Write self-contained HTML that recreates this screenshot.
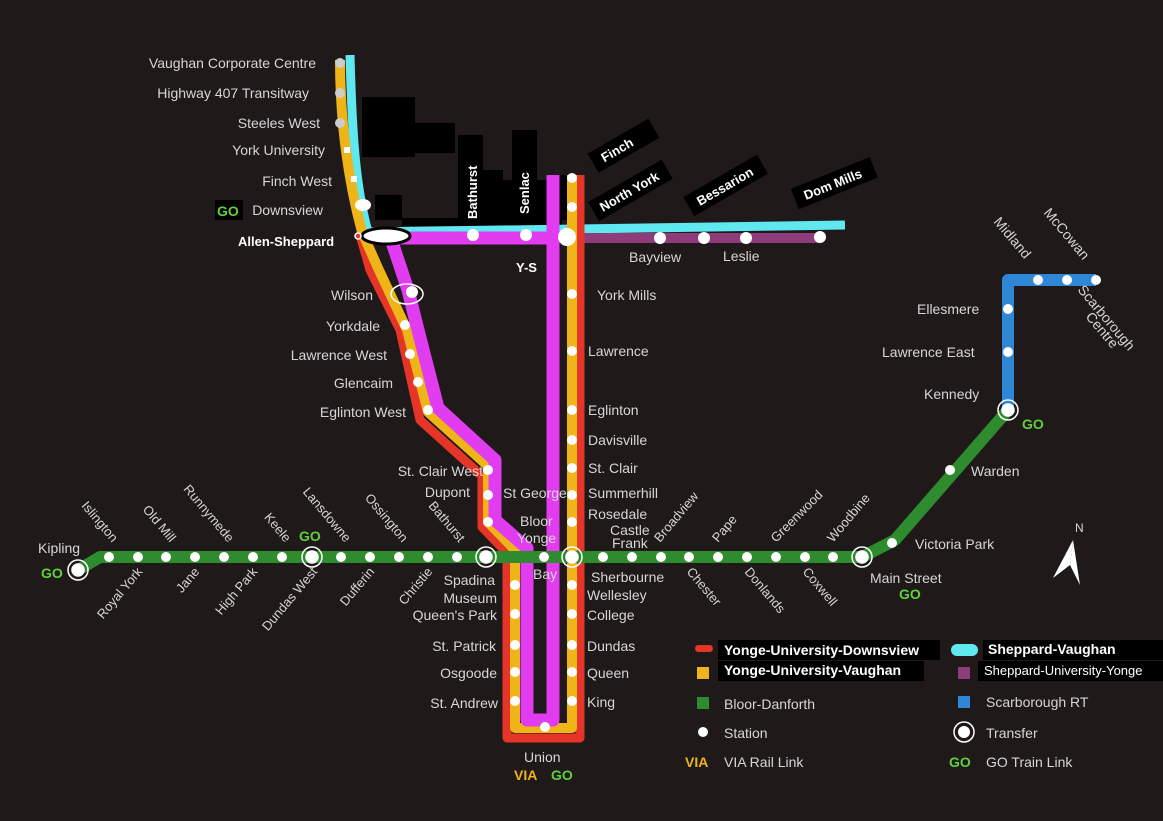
<!DOCTYPE html>
<html><head><meta charset="utf-8"><style>
html,body{margin:0;padding:0;background:#1f1a19;}
svg{display:block}
text{font-family:"Liberation Sans","DejaVu Sans",sans-serif;}
.l{fill:#d6d6d6;font-size:14px;}
.b{fill:#fff;font-size:13px;font-weight:bold;}
.go{fill:#5fd13a;font-size:14px;font-weight:bold;}
</style></head><body>
<svg width="1163" height="821" viewBox="0 0 1163 821" xmlns="http://www.w3.org/2000/svg">
<rect width="1163" height="821" fill="#1f1a19"/>
<!-- black blocks -->
<g fill="#000">
<rect x="362" y="97" width="53" height="60"/>
<rect x="415" y="123" width="40" height="30"/>
<rect x="458" y="135" width="25" height="85"/>
<rect x="483" y="170" width="20" height="50"/>
<rect x="512" y="130" width="25" height="50"/>
<rect x="503" y="180" width="50" height="40"/>
<rect x="553" y="175" width="15" height="45"/>
<rect x="375" y="195" width="27" height="25"/>
<rect x="215" y="200" width="28" height="20"/>
<rect x="402" y="218" width="160" height="8"/>
</g>
<!-- cyan Sheppard-Vaughan -->
<path d="M350,55 C352,130 355,185 368,232 L845,225" fill="none" stroke="#5fe8f0" stroke-width="9" stroke-linejoin="round"/>
<!-- purple Sheppard east -->
<path d="M570,238 L820,238" stroke="#8e3d7a" stroke-width="10"/>
<!-- red -->
<path d="M360,235 L370,270 L400,330 L420,420 L482,476 L482,527 L507,553 L507,738 L580,738 L580,175" fill="none" stroke="#e53528" stroke-width="9" stroke-linejoin="round"/>
<!-- yellow -->
<path d="M340,60 C340,120 348,180 362,232 L378,268 L407,330 L428,412 L488,466 L488,522 L515,550 L515,728 L572,728 L572,175" fill="none" stroke="#eeb418" stroke-width="10" stroke-linejoin="round"/>
<!-- magenta -->
<path d="M380,238 L553,238 M392,242 L408,290 L418,330 L438,408 L495,460 L495,520 L527,548 L527,720 L553,720 L553,175" fill="none" stroke="#e13cf0" stroke-width="13" stroke-linejoin="round"/>
<!-- green -->
<path d="M78,570 L100,557 L862,557 L895,540 L1008,410" fill="none" stroke="#2e8b2e" stroke-width="12" stroke-linejoin="round"/>
<!-- blue -->
<path d="M1008,410 L1008,280 L1096,280" fill="none" stroke="#2e86d6" stroke-width="12" stroke-linejoin="round"/>
<!-- stations -->
<g fill="#fff">
<circle cx="109" cy="557" r="5"/><circle cx="138" cy="557" r="5"/><circle cx="166" cy="557" r="5"/><circle cx="195" cy="557" r="5"/><circle cx="224" cy="557" r="5"/><circle cx="253" cy="557" r="5"/><circle cx="282" cy="557" r="5"/><circle cx="341" cy="557" r="5"/><circle cx="370" cy="557" r="5"/><circle cx="399" cy="557" r="5"/><circle cx="428" cy="557" r="5"/><circle cx="457" cy="557" r="5"/><circle cx="544" cy="557" r="5"/><circle cx="603" cy="557" r="5"/><circle cx="632" cy="557" r="5"/><circle cx="661" cy="557" r="5"/><circle cx="689" cy="557" r="5"/><circle cx="718" cy="557" r="5"/><circle cx="747" cy="557" r="5"/><circle cx="776" cy="557" r="5"/><circle cx="805" cy="557" r="5"/><circle cx="833" cy="557" r="5"/><circle cx="892" cy="543" r="5"/><circle cx="950" cy="470" r="5"/>
<circle cx="1008" cy="352" r="5"/><circle cx="1008" cy="309" r="5"/><circle cx="1038" cy="280" r="5"/><circle cx="1067" cy="280" r="5"/><circle cx="1096" cy="280" r="5"/>
<circle cx="572" cy="178" r="5"/><circle cx="572" cy="207" r="5"/><circle cx="572" cy="294" r="5"/><circle cx="572" cy="351" r="5"/><circle cx="572" cy="410" r="5"/><circle cx="572" cy="440" r="5"/><circle cx="572" cy="468" r="5"/><circle cx="572" cy="495" r="5"/><circle cx="572" cy="522" r="5"/><circle cx="572" cy="585" r="5"/><circle cx="572" cy="614" r="5"/><circle cx="572" cy="645" r="5"/><circle cx="572" cy="672" r="5"/><circle cx="572" cy="701" r="5"/>
<circle cx="515" cy="585" r="5"/><circle cx="515" cy="614" r="5"/><circle cx="515" cy="645" r="5"/><circle cx="515" cy="672" r="5"/><circle cx="515" cy="701" r="5"/><circle cx="545" cy="727" r="5"/>
<circle cx="488" cy="470" r="5"/><circle cx="488" cy="495" r="5"/><circle cx="488" cy="522" r="5"/>
<circle cx="428" cy="410" r="5"/><circle cx="418" cy="382" r="5"/><circle cx="410" cy="354" r="5"/><circle cx="405" cy="325" r="5"/><circle cx="412" cy="292" r="6"/>
<circle cx="340" cy="63" r="5" fill="#ccc"/><circle cx="340" cy="93" r="5" fill="#ccc"/><circle cx="340" cy="123" r="5" fill="#ccc"/><rect x="344" y="147" width="6" height="6"/><rect x="351" y="176" width="6" height="6"/><ellipse cx="363" cy="205" rx="8" ry="6"/>
<circle cx="473" cy="235" r="6"/><circle cx="526" cy="235" r="6"/><circle cx="660" cy="238" r="6"/><circle cx="704" cy="238" r="6"/><circle cx="746" cy="238" r="6"/><circle cx="820" cy="237" r="6"/><circle cx="567" cy="237" r="9"/>
</g>
<ellipse cx="386" cy="236" rx="24" ry="8" fill="#fff" stroke="#000" stroke-width="3"/>
<circle cx="358" cy="236" r="3" fill="#e53528" stroke="#fff" stroke-width="1.5"/>
<ellipse cx="407" cy="294" rx="16" ry="10" fill="none" stroke="#fff" stroke-width="1.5"/>
<!-- transfers -->
<g fill="#fff" stroke="#fff" stroke-width="1.5">
<circle cx="78" cy="570" r="6"/><circle cx="78" cy="570" r="10" fill="none"/>
<circle cx="312" cy="557" r="6"/><circle cx="312" cy="557" r="10" fill="none"/>
<circle cx="486" cy="557" r="6"/><circle cx="486" cy="557" r="10" fill="none"/>
<circle cx="572" cy="557" r="6"/><circle cx="572" cy="557" r="10" fill="none"/>
<circle cx="862" cy="557" r="6"/><circle cx="862" cy="557" r="10" fill="none"/>
<circle cx="1008" cy="410" r="6"/><circle cx="1008" cy="410" r="10" fill="none"/>
</g>
<!-- Spadina line labels -->
<g class="l" text-anchor="end">
<text x="316" y="68">Vaughan Corporate Centre</text>
<text x="309" y="98">Highway 407 Transitway</text>
<text x="320" y="128">Steeles West</text>
<text x="325" y="155">York University</text>
<text x="332" y="186">Finch West</text>
<text x="323" y="215">Downsview</text>
<text x="373" y="300">Wilson</text>
<text x="380" y="331">Yorkdale</text>
<text x="387" y="360">Lawrence West</text>
<text x="393" y="388">Glencaim</text>
<text x="406" y="417">Eglinton West</text>
<text x="483" y="476">St. Clair West</text>
<text x="470" y="497">Dupont</text>
<text x="495" y="585">Spadina</text>
<text x="497" y="603">Museum</text>
<text x="497" y="620">Queen's Park</text>
<text x="496" y="651">St. Patrick</text>
<text x="497" y="678">Osgoode</text>
<text x="498" y="708">St. Andrew</text>
</g>
<rect x="215" y="200" width="28" height="20" fill="#000"/>
<text x="217" y="216" class="go">GO</text>
<text x="238" y="246" class="b">Allen-Sheppard</text>
<text x="516" y="272" class="b">Y-S</text>
<text class="b" transform="translate(477,219) rotate(-90)">Bathurst</text>
<text class="b" transform="translate(529,214) rotate(-90)">Senlac</text>
<text x="503" y="498" class="l">St George</text>
<text x="520" y="526" class="l">Bloor</text>
<text x="517" y="543" class="l">Yonge</text>
<text x="533" y="579" class="l">Bay</text>
<!-- Yonge labels -->
<g class="l">
<text x="597" y="300">York Mills</text>
<text x="588" y="356">Lawrence</text>
<text x="588" y="415">Eglinton</text>
<text x="588" y="445">Davisville</text>
<text x="588" y="473">St. Clair</text>
<text x="588" y="498">Summerhill</text>
<text x="588" y="519">Rosedale</text>
<text x="610" y="535">Castle</text>
<text x="612" y="548">Frank</text>
<text x="591" y="582">Sherbourne</text>
<text x="587" y="600">Wellesley</text>
<text x="587" y="620">College</text>
<text x="587" y="651">Dundas</text>
<text x="587" y="678">Queen</text>
<text x="587" y="707">King</text>
<text x="524" y="762">Union</text>
<text x="629" y="262">Bayview</text>
<text x="723" y="261">Leslie</text>
</g>
<text x="514" y="780" class="b" fill="#eeb418" style="fill:#eeb418;font-size:14px">VIA</text>
<text x="551" y="780" class="go">GO</text>
<!-- rotated black labels -->
<g>
<g transform="translate(600,165) rotate(-30)"><rect x="-5" y="-16" width="70" height="22" fill="#000"/><text x="5" y="0" class="b">Finch</text></g>
<g transform="translate(603,212) rotate(-30)"><rect x="-8" y="-16" width="85" height="22" fill="#000"/><text x="0" y="0" class="b">North York</text></g>
<g transform="translate(700,206) rotate(-30)"><rect x="-10" y="-16" width="85" height="22" fill="#000"/><text x="0" y="0" class="b">Bessarion</text></g>
<g transform="translate(806,200) rotate(-22)"><rect x="-10" y="-16" width="85" height="22" fill="#000"/><text x="0" y="0" class="b">Dom Mills</text></g>
</g>
<!-- Bloor-Danforth labels upper -->
<g class="l" text-anchor="end" style="font-size:13px">
<text transform="translate(112,543) rotate(50)">Islington</text>
<text transform="translate(170,543) rotate(50)">Old Mill</text>
<text transform="translate(228,543) rotate(50)">Runnymede</text>
<text transform="translate(285,543) rotate(50)">Keele</text>
<text transform="translate(345,543) rotate(50)">Lansdowne</text>
<text transform="translate(402,543) rotate(50)">Ossington</text>
<text transform="translate(459,543) rotate(50)">Bathurst</text>
<text transform="translate(660,543) rotate(-50)" text-anchor="start">Broadview</text>
<text transform="translate(718,543) rotate(-50)" text-anchor="start">Pape</text>
<text transform="translate(776,543) rotate(-45)" text-anchor="start">Greenwood</text>
<text transform="translate(833,543) rotate(-50)" text-anchor="start">Woodbine</text>
<text transform="translate(143,572) rotate(-50)">Royal York</text>
<text transform="translate(200,572) rotate(-50)">Jane</text>
<text transform="translate(258,572) rotate(-50)">High Park</text>
<text transform="translate(318,572) rotate(-50)">Dundas West</text>
<text transform="translate(375,572) rotate(-50)">Dufferin</text>
<text transform="translate(433,572) rotate(-50)">Christie</text>
<text transform="translate(686,572) rotate(50)" text-anchor="start">Chester</text>
<text transform="translate(744,572) rotate(50)" text-anchor="start">Donlands</text>
<text transform="translate(802,572) rotate(50)" text-anchor="start">Coxwell</text>
</g>
<g class="l">
<text x="38" y="553">Kipling</text>
<text x="870" y="583">Main Street</text>
<text x="915" y="549">Victoria Park</text>
<text x="971" y="476">Warden</text>
<text x="924" y="399">Kennedy</text>
<text x="882" y="357">Lawrence East</text>
<text x="917" y="314">Ellesmere</text>
<text transform="translate(993,222) rotate(50)">Midland</text>
<text transform="translate(1043,213) rotate(50)">McCowan</text>
<text transform="translate(1077,290) rotate(50)">Scarborough</text>
<text transform="translate(1085,317) rotate(50)">Centre</text>
</g>
<text x="41" y="578" class="go">GO</text>
<text x="299" y="541" class="go">GO</text>
<text x="899" y="599" class="go">GO</text>
<text x="1022" y="429" class="go">GO</text>
<!-- north arrow -->
<path d="M1073,540 L1053,578 L1070,565 Z" fill="#fff"/><path d="M1073,540 L1080,585 L1070,565 Z" fill="#fff"/>
<text x="1075" y="532" class="l" style="font-size:12px">N</text>
<!-- legend -->
<rect x="718" y="640" width="222" height="20" fill="#000"/>
<rect x="695" y="645" width="18" height="7" rx="3.5" fill="#e53528"/>
<text x="724" y="655" class="b" style="font-size:14px">Yonge-University-Downsview</text>
<rect x="718" y="661" width="206" height="20" fill="#000"/>
<rect x="697" y="667" width="12" height="12" fill="#eeb418"/>
<text x="724" y="675" class="b" style="font-size:14px">Yonge-University-Vaughan</text>
<rect x="697" y="697" width="12" height="12" fill="#2e8b2e"/>
<text x="724" y="709" class="l">Bloor-Danforth</text>
<circle cx="703" cy="732" r="5" fill="#fff"/>
<text x="724" y="738" class="l">Station</text>
<text x="685" y="767" style="fill:#eeb418;font-size:14px;font-weight:bold">VIA</text>
<text x="724" y="767" class="l">VIA Rail Link</text>
<rect x="983" y="640" width="180" height="20" fill="#000"/>
<rect x="951" y="644" width="27" height="12" rx="6" fill="#5fe8f0"/>
<text x="988" y="654" class="b" style="font-size:14px">Sheppard-Vaughan</text>
<rect x="978" y="661" width="185" height="20" fill="#000"/>
<rect x="958" y="667" width="12" height="12" fill="#8e3d7a"/>
<text x="984" y="675" class="b" style="font-size:13px;font-weight:normal">Sheppard-University-Yonge</text>
<rect x="958" y="696" width="12" height="12" fill="#2e86d6"/>
<text x="986" y="707" class="l">Scarborough RT</text>
<circle cx="964" cy="732" r="6" fill="#fff"/><circle cx="964" cy="732" r="10" fill="none" stroke="#fff" stroke-width="1.5"/>
<text x="986" y="738" class="l">Transfer</text>
<text x="949" y="767" class="go">GO</text>
<text x="986" y="767" class="l">GO Train Link</text>
</svg>
</body></html>
